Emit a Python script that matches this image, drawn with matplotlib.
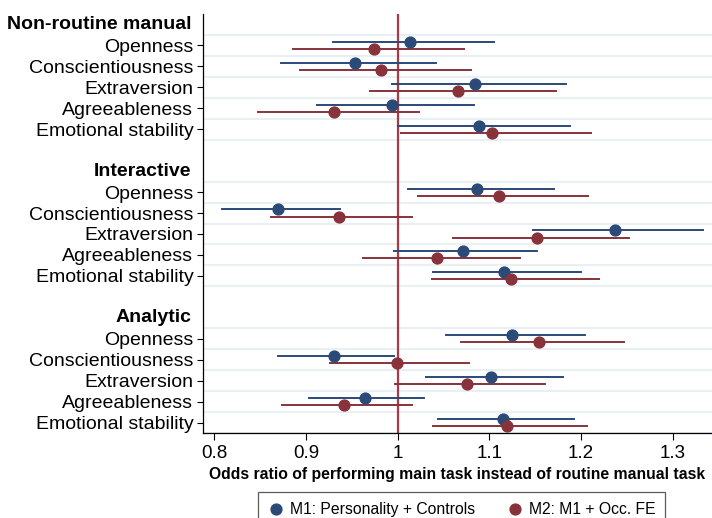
import matplotlib
matplotlib.use("Agg")
import matplotlib.pyplot as plt
from matplotlib.lines import Line2D
import numpy as np

## Data

groups = ["Non-routine manual", "Interactive", "Analytic"]
traits = ["Openness", "Conscientiousness", "Extraversion", "Agreeableness", "Emotional stability"]

# M1: Personality + Controls (point, lower, upper) per group, traits in order
m1_est = [[1.013, 0.954, 1.084, 0.994, 1.089],
          [1.087, 0.870, 1.237, 1.071, 1.116],
          [1.125, 0.931, 1.102, 0.964, 1.115]]
m1_lo = [[0.929, 0.873, 0.994, 0.912, 1.000],
         [1.011, 0.808, 1.148, 0.996, 1.038],
         [1.053, 0.870, 1.031, 0.903, 1.044]]
m1_hi = [[1.105, 1.042, 1.184, 1.083, 1.188],
         [1.170, 0.937, 1.333, 1.152, 1.200],
         [1.204, 0.996, 1.180, 1.029, 1.192]]

# M2: M1 + Occ. FE
m2_est = [[0.974, 0.982, 1.066, 0.931, 1.103],
          [1.111, 0.936, 1.152, 1.043, 1.124],
          [1.154, 0.999, 1.076, 0.942, 1.119]]
m2_lo = [[0.886, 0.893, 0.970, 0.848, 1.004],
         [1.022, 0.862, 1.060, 0.962, 1.037],
         [1.069, 0.926, 0.997, 0.874, 1.039]]
m2_hi = [[1.072, 1.080, 1.173, 1.023, 1.211],
         [1.208, 1.016, 1.252, 1.133, 1.220],
         [1.247, 1.078, 1.161, 1.016, 1.206]]

labels_m = ["M1: Personality + Controls", "M2: M1 + Occ. FE"]
xticks = [0.8, 0.9, 1.0, 1.1, 1.2, 1.3]
xticklabels = ["0.8", "0.9", "1", "1.1", "1.2", "1.3"]

navy = "#2b4a78"
maroon = "#88323a"
refcol = "#ab3848"
gridcol = "#e9f0f3"

plt.rcParams["font.family"] = ["Liberation Sans", "DejaVu Sans"]

fig = plt.figure(figsize=(7.12, 5.18), dpi=100)
ax = fig.add_axes([203/712., 85/518., 1 - 203/712., 419/518.])

off = 0.17
ypos = []
ylab = []
for g in range(len(groups)):
    start = g * 7
    # grid lines around items
    for k in range(6):
        ax.axhline(start + 0.5 + k, color=gridcol, lw=1.5, zorder=0)
    for t in range(len(traits)):
        y = start + 1 + t
        ypos.append(y)
        ylab.append(traits[t])
        ax.plot([m1_lo[g][t], m1_hi[g][t]], [y - off, y - off], color=navy, lw=1.4, zorder=3)
        ax.plot([m2_lo[g][t], m2_hi[g][t]], [y + off, y + off], color=maroon, lw=1.4, zorder=3)
        ax.plot(m1_est[g][t], y - off, "o", color=navy, ms=7.8, zorder=4)
        ax.plot(m2_est[g][t], y + off, "o", color=maroon, ms=7.8, zorder=4)
    # bold group header
    ax.text(-0.023, start, groups[g], transform=ax.get_yaxis_transform(),
            ha="right", va="center", fontsize=14, fontweight="bold")

ax.axvline(1.0, color=refcol, lw=1.6, zorder=2)

## Axes

ax.set_ylim(19.5, -0.5)
ax.set_xlim(0.7877, 1.3428)
ax.set_yticks(ypos)
ax.set_yticklabels(ylab, fontsize=14)
ax.set_xticks(xticks)
ax.set_xticklabels(xticklabels, fontsize=13.5)
ax.tick_params(axis="y", length=4, width=0.8, pad=3)
ax.tick_params(axis="x", length=5, width=0.8, pad=4)
ax.spines["top"].set_visible(False)
ax.spines["right"].set_visible(False)
ax.spines["left"].set_linewidth(0.9)
ax.spines["bottom"].set_linewidth(0.9)
ax.set_xlabel("Odds ratio of performing main task instead of routine manual task",
              fontsize=11.3, fontweight="bold", labelpad=3)

## Legend

h = [Line2D([], [], marker="o", ls="none", color=navy, ms=7.8),
     Line2D([], [], marker="o", ls="none", color=maroon, ms=7.8)]
leg = fig.legend(h, labels_m, loc="upper left", bbox_to_anchor=(258/712., 1 - 492/518.),
                 ncol=2, fontsize=11.3, frameon=True, fancybox=False, handletextpad=0.4,
                 columnspacing=2.0, borderpad=0.65, handlelength=1.0, borderaxespad=0)
leg.get_frame().set_edgecolor("#333333")
leg.get_frame().set_linewidth(0.9)

fig.savefig("out.png", dpi=100)
